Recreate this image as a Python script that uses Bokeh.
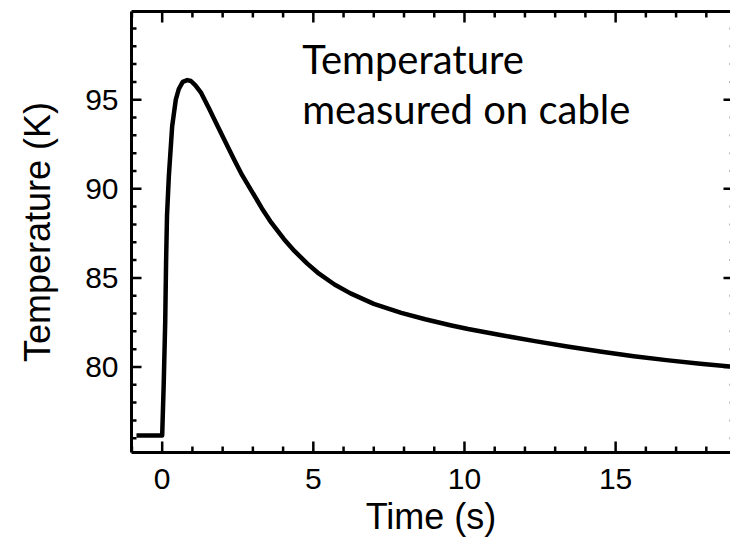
import numpy as np
from bokeh.plotting import figure
from bokeh.models import Range1d, LinearAxis, FixedTicker, Label
from bokeh.embed import file_html
from bokeh.resources import INLINE

# Data
time_s = [-0.85, -0.5, -0.2, 0.0, 0.05, 0.10, 0.13, 0.16, 0.22, 0.33, 0.45,
          0.55, 0.68, 0.83, 0.95, 1.1, 1.29, 1.55, 1.84, 2.1, 2.39, 2.65, 2.95,
          3.3, 3.61, 4.03, 4.38, 4.8, 5.14, 5.7, 6.23, 7.0, 7.91, 8.7, 9.57,
          10.12, 11.23, 12.33, 13.4, 14.54, 15.6, 16.75, 17.8, 18.8]
temp_k = [76.16, 76.16, 76.16, 76.16, 79.0, 82.5, 86.0, 88.5, 90.7, 93.5, 95.0,
          95.6, 96.0, 96.1, 96.05, 95.8, 95.38, 94.5, 93.5, 92.6, 91.6, 90.75, 89.9,
          88.9, 88.1, 87.17, 86.5, 85.8, 85.3, 84.63, 84.13, 83.54, 83.04, 82.68, 82.33,
          82.13, 81.78, 81.45, 81.15, 80.85, 80.6, 80.37, 80.18, 80.02]

x_range_lim = (-1.015, 18.8)
y_range_lim = (75.2, 99.95)
x_ticks_major = [0, 5, 10, 15]
x_ticks_minor = [v for v in range(-1, 19) if v % 5 != 0]
y_ticks_major = [80, 85, 90, 95]
y_ticks_minor = [v for v in range(76, 100) if v % 5 != 0]
annotation_lines = ["Temperature", "measured on cable"]
annotation_y = [97.29, 94.48]

TICK_FONT = "Liberation Sans"

p = figure(width=730, height=540,
           x_range=Range1d(*x_range_lim), y_range=Range1d(*y_range_lim),
           output_backend="svg", toolbar_location=None,
           min_border_left=131, min_border_top=11, min_border_right=0,
           min_border_bottom=88, outline_line_color=None,
           background_fill_color="white", border_fill_color="white")
p.xgrid.visible = False
p.ygrid.visible = False

def style_axis(ax, ticks, labels=True):
    ax.ticker = FixedTicker(ticks=ticks)
    ax.axis_line_color = "black"
    ax.axis_line_width = 3
    ax.major_tick_line_color = None
    ax.minor_tick_line_color = None
    ax.major_tick_in = 0
    ax.major_tick_out = 0
    ax.minor_tick_in = 0
    ax.minor_tick_out = 0
    ax.major_label_text_font = TICK_FONT
    ax.major_label_text_color = "black"
    ax.axis_label_text_font = TICK_FONT
    ax.axis_label_text_font_style = "normal"
    ax.axis_label_text_color = "black"
    if labels:
        ax.major_label_text_font_size = "30px"
    else:
        ax.major_label_text_font_size = "0px"
        ax.major_label_standoff = 0

style_axis(p.xaxis[0], x_ticks_major)
p.xaxis[0].axis_label = "Time (s)"
p.xaxis[0].axis_label_text_font_size = "36px"
p.xaxis[0].major_label_standoff = 16
p.xaxis[0].axis_label_standoff = 4

style_axis(p.yaxis[0], y_ticks_major)
p.yaxis[0].axis_label = "Temperature (K)"
p.yaxis[0].axis_label_text_font_size = "36px"
p.yaxis[0].major_label_standoff = 13
p.yaxis[0].major_label_orientation = "horizontal"
p.yaxis[0].axis_label_standoff = 24

top = LinearAxis()
style_axis(top, x_ticks_major, labels=False)
p.add_layout(top, "above")

# inward tick marks, drawn from the frame edges through the plot's scales
tick_kw = dict(length_units="screen", angle_units="deg", line_color="black",
               line_width=2.5)
x0, x1 = x_range_lim
y0, y1 = y_range_lim
p.ray(x=x_ticks_major, y=[y0] * len(x_ticks_major), length=11, angle=90, **tick_kw)
p.ray(x=x_ticks_minor, y=[y0] * len(x_ticks_minor), length=6, angle=90, **tick_kw)
p.ray(x=x_ticks_major, y=[y1] * len(x_ticks_major), length=11, angle=-90, **tick_kw)
p.ray(x=x_ticks_minor, y=[y1] * len(x_ticks_minor), length=6, angle=-90, **tick_kw)
p.ray(x=[x0] * len(y_ticks_major), y=y_ticks_major, length=10, angle=0, **tick_kw)
p.ray(x=[x0] * len(y_ticks_minor), y=y_ticks_minor, length=5, angle=0, **tick_kw)
p.ray(x=[x1] * len(y_ticks_major), y=y_ticks_major, length=7, angle=180, **tick_kw)
p.ray(x=[x1] * len(y_ticks_minor), y=y_ticks_minor, length=1.5, angle=180,
      length_units="screen", angle_units="deg", line_color="#bcbcbc", line_width=2)

p.line(time_s, temp_k, line_color="black", line_width=4.5, line_join="round")

for txt, yv in zip(annotation_lines, annotation_y):
    p.add_layout(Label(x=4.63, y=yv, text=txt,
                       text_font="Lato", text_font_size="40px",
                       text_color="black", text_baseline="alphabetic"))

open("out.html", "w").write(file_html(p, INLINE))
